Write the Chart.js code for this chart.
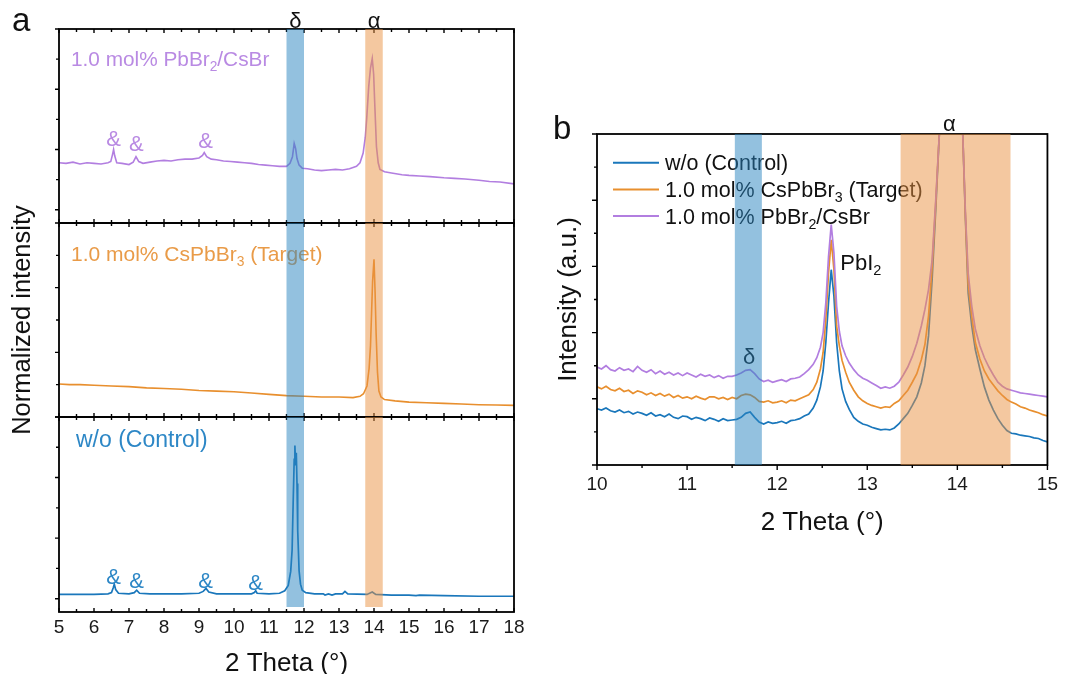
<!DOCTYPE html>
<html><head><meta charset="utf-8">
<script src="https://cdn.jsdelivr.net/npm/chart.js@4.4.1/dist/chart.umd.min.js"></script>
<style>
html,body{margin:0;padding:0;background:#fff;width:1066px;height:674px;overflow:hidden;position:relative}
canvas{position:absolute}
</style></head><body>
<canvas id="a1" width="530" height="240" style="left:0px;top:0px"></canvas>
<canvas id="a2" width="530" height="260" style="left:0px;top:190px"></canvas>
<canvas id="a3" width="530" height="274" style="left:0px;top:400px"></canvas>
<canvas id="b" width="526" height="440" style="left:540px;top:100px"></canvas>
<script>
// ---------------- DATA ----------------
// Panel a, top: 1.0 mol% PbBr2/CsBr
const thetaA_pbbr = [5.0,5.2,5.4,5.6,5.8,6.0,6.2,6.4,6.48,6.53,6.56,6.59,6.65,6.8,7.0,7.12,7.2,7.28,7.4,7.6,7.8,8.0,8.2,8.4,8.6,8.8,9.0,9.1,9.15,9.22,9.35,9.5,9.7,9.9,10.1,10.3,10.5,10.7,10.9,11.1,11.3,11.5,11.6,11.67,11.72,11.76,11.8,11.86,11.95,12.1,12.3,12.5,12.7,12.9,13.1,13.3,13.5,13.6,13.69,13.75,13.79,13.85,13.9,13.95,13.99,14.02,14.07,14.12,14.17,14.3,14.5,14.8,15.0,15.3,15.6,16.0,16.3,16.6,17.0,17.3,17.6,18.0];
const intA_pbbr   = [0.78,0.77,0.79,0.76,0.78,0.77,0.76,0.78,0.80,0.92,1.00,0.90,0.78,0.77,0.75,0.79,0.88,0.80,0.77,0.79,0.81,0.82,0.81,0.83,0.84,0.84,0.86,0.90,0.95,0.88,0.84,0.83,0.81,0.80,0.79,0.78,0.77,0.75,0.74,0.73,0.72,0.72,0.77,0.88,1.10,1.02,0.85,0.74,0.69,0.68,0.66,0.65,0.66,0.67,0.66,0.68,0.72,0.78,0.94,1.20,1.50,2.05,2.35,2.51,2.25,1.78,1.05,0.78,0.67,0.63,0.61,0.58,0.57,0.56,0.55,0.53,0.52,0.51,0.49,0.47,0.46,0.43];
// Panel a, middle: 1.0 mol% CsPbBr3
const thetaA_cspbbr = [5.0,5.3,5.6,6.0,6.5,7.0,7.5,8.0,8.5,9.0,9.5,10.0,10.5,11.0,11.5,12.0,12.5,13.0,13.4,13.6,13.7,13.8,13.86,13.9,13.93,13.96,14.0,14.03,14.06,14.1,14.14,14.2,14.3,14.6,15.0,15.5,16.0,16.5,17.0,17.5,18.0];
const intA_cspbbr   = [0.51,0.50,0.50,0.49,0.48,0.47,0.45,0.44,0.43,0.41,0.40,0.39,0.37,0.35,0.33,0.32,0.31,0.31,0.30,0.32,0.36,0.48,0.75,1.10,1.60,2.10,2.44,1.95,1.30,0.69,0.40,0.31,0.27,0.25,0.23,0.22,0.21,0.20,0.19,0.185,0.18];
// Panel a, bottom: w/o (Control)
const thetaA_ctrl = [5.0,5.5,6.0,6.4,6.5,6.55,6.58,6.62,6.7,7.0,7.15,7.22,7.3,7.6,8.0,8.5,9.0,9.12,9.2,9.28,9.5,10.0,10.5,10.58,10.62,10.66,11.0,11.3,11.45,11.55,11.62,11.66,11.69,11.72,11.74,11.76,11.78,11.8,11.82,11.86,11.9,11.95,12.05,12.3,12.55,12.6,12.7,12.8,12.9,13.1,13.17,13.25,13.8,13.95,14.05,14.5,15.0,15.2,15.3,16.0,17.0,18.0];
const intA_ctrl   = [0.07,0.07,0.07,0.08,0.10,0.18,0.24,0.15,0.09,0.08,0.10,0.14,0.09,0.08,0.08,0.08,0.09,0.12,0.17,0.11,0.08,0.08,0.08,0.10,0.13,0.09,0.08,0.09,0.13,0.22,0.45,0.80,1.57,2.30,2.53,2.20,2.41,1.90,1.13,0.46,0.24,0.14,0.10,0.08,0.08,0.06,0.08,0.06,0.08,0.08,0.12,0.08,0.07,0.11,0.07,0.06,0.06,0.05,0.06,0.05,0.04,0.04];

// Panel b (zoom 10-15)
const thetaB = [10.00,10.05,10.10,10.15,10.20,10.25,10.30,10.35,10.40,10.45,
10.50,10.55,10.60,10.65,10.70,10.75,10.80,10.85,10.90,10.95,
11.00,11.05,11.10,11.15,11.20,11.25,11.30,11.35,11.40,11.45,
11.50,11.55,11.60,11.65,11.70,11.75,11.80,11.85,11.90,11.95,
12.00,12.05,12.10,12.15,12.20,12.25,12.30,12.35,12.40,12.44,
12.48,12.51,12.54,12.57,12.60,12.63,12.66,12.69,12.72,12.76,
12.80,12.85,12.90,12.95,13.00,13.05,13.10,13.15,13.20,13.25,
13.30,13.35,13.40,13.45,13.50,13.55,13.60,13.64,13.68,13.72,
13.76,13.80,13.86,13.93,14.00,14.06,14.09,14.12,14.16,14.20,
14.25,14.30,14.35,14.40,14.45,14.50,14.55,14.60,14.65,14.70,
14.75,14.80,14.85,14.90,14.95,15.00];
const intB_ctrl = [0.85,0.83,0.86,0.82,0.80,0.83,0.79,0.81,0.77,0.80,
0.78,0.75,0.79,0.74,0.76,0.73,0.77,0.72,0.70,0.74,
0.73,0.69,0.72,0.70,0.67,0.71,0.69,0.66,0.70,0.67,
0.68,0.69,0.72,0.78,0.80,0.72,0.65,0.62,0.65,0.63,
0.64,0.66,0.63,0.67,0.68,0.70,0.74,0.77,0.86,0.98,
1.18,1.42,1.85,2.45,2.95,2.55,1.85,1.42,1.15,0.96,
0.84,0.72,0.66,0.62,0.60,0.57,0.55,0.53,0.54,0.53,
0.56,0.62,0.70,0.78,0.90,1.03,1.24,1.50,1.95,2.80,
3.85,5.0,8.0,10.5,8.0,5.0,3.7,2.6,2.1,1.74,
1.45,1.18,0.98,0.83,0.70,0.60,0.52,0.48,0.47,0.45,
0.44,0.43,0.41,0.40,0.37,0.35];
const intB_cspbbr = [1.18,1.15,1.19,1.14,1.12,1.16,1.11,1.13,1.08,1.12,
1.10,1.06,1.09,1.05,1.08,1.04,1.07,1.02,1.05,1.01,
1.03,1.00,1.04,1.01,0.99,1.03,1.03,1.00,1.02,0.99,
1.02,1.00,1.05,1.07,1.06,1.02,0.96,0.95,0.97,0.94,
0.95,0.97,0.94,0.98,0.97,1.00,1.03,1.06,1.14,1.25,
1.45,1.70,2.20,2.90,3.40,2.95,2.10,1.80,1.58,1.40,
1.25,1.13,1.03,0.97,0.93,0.90,0.88,0.86,0.88,0.87,
0.93,0.97,1.05,1.13,1.25,1.38,1.59,1.82,2.25,3.0,
3.95,5.0,8.0,10.5,8.0,5.0,3.75,2.75,2.25,1.85,
1.60,1.42,1.30,1.21,1.12,1.05,0.99,0.95,0.92,0.88,
0.86,0.83,0.81,0.79,0.76,0.74];
const intB_pbbr = [1.48,1.45,1.50,1.44,1.42,1.47,1.43,1.45,1.41,1.49,
1.43,1.40,1.44,1.38,1.42,1.37,1.40,1.36,1.39,1.35,
1.39,1.36,1.33,1.37,1.34,1.36,1.32,1.35,1.31,1.34,
1.34,1.36,1.39,1.43,1.44,1.38,1.30,1.26,1.28,1.25,
1.27,1.29,1.26,1.30,1.31,1.33,1.38,1.44,1.52,1.62,
1.78,2.00,2.45,3.15,3.63,3.20,2.40,2.02,1.80,1.65,
1.54,1.44,1.36,1.31,1.28,1.24,1.20,1.16,1.18,1.16,
1.19,1.25,1.36,1.48,1.64,1.84,2.10,2.35,2.65,3.1,
4.0,5.0,8.0,10.5,8.0,5.0,3.8,2.9,2.40,2.05,
1.80,1.62,1.48,1.36,1.25,1.19,1.15,1.13,1.11,1.09,
1.08,1.07,1.06,1.05,1.04,1.03];

const xRangeA = [5, 18];
const xRangeB = [10, 15];
const bandsA = [[11.5, 12.0], [13.75, 14.25]];
const bandsB = [[11.53, 11.83], [13.37, 14.59]];
const peakMarksTop = [[6.56, 1.05], [7.21, 0.97], [9.19, 1.02]];
const peakMarksBottom = [[6.56, 0.25], [7.22, 0.17], [9.19, 0.17], [10.62, 0.15]];

// ---------------- STYLE ----------------
const FONT = '"Liberation Sans", Arial, Helvetica, sans-serif';
const C = {
  purple: '#b27ee0', purpleText: '#b98ae3',
  orange: '#e88f2e', orangeText: '#e99b48',
  blue: '#1a77bb', blueText: '#2d87c6',
  bandBlue: 'rgba(40,132,192,0.5)', bandOrange: 'rgba(234,146,66,0.5)',
  ink: '#111111'
};

function drawRich(ctx, parts, x, y, size, color, align) {
  const sub = size * 0.66;
  let w = 0;
  parts.forEach(([t, s]) => { ctx.font = (s ? sub : size) + 'px ' + FONT; w += ctx.measureText(t).width; });
  let cx = align === 'center' ? x - w / 2 : (align === 'right' ? x - w : x);
  ctx.fillStyle = color; ctx.textBaseline = 'alphabetic'; ctx.textAlign = 'left';
  parts.forEach(([t, s]) => {
    ctx.font = (s ? sub : size) + 'px ' + FONT;
    ctx.fillText(t, cx, y + (s ? size * 0.24 : 0));
    cx += ctx.measureText(t).width;
  });
}

const decor = {
  id: 'decor',
  afterDatasetsDraw(chart, args, o) {
    const { ctx, chartArea: ca, scales } = chart;
    const x = scales.x, y = scales.y;
    ctx.save();
    // text notes (under the bands)
    (o.notes || []).forEach(n => {
      let px, py;
      if (n.abs) { px = n.abs[0]; py = n.abs[1]; }
      else {
        px = n.dx !== undefined ? ca.left + n.dx : x.getPixelForValue(n.x);
        py = n.dy !== undefined ? ca.top + n.dy : y.getPixelForValue(n.y);
      }
      drawRich(ctx, n.parts, px, py, n.size, n.color, n.align || 'left');
    });
    // legend
    if (o.legend) {
      const L = o.legend;
      L.items.forEach((it, i) => {
        const yy = ca.top + L.top + i * L.gap;
        ctx.strokeStyle = it.color; ctx.lineWidth = 2;
        ctx.beginPath(); ctx.moveTo(ca.left + L.x0, yy); ctx.lineTo(ca.left + L.x1, yy); ctx.stroke();
        drawRich(ctx, it.parts, ca.left + L.tx, yy + L.size * 0.36, L.size, C.ink, 'left');
      });
    }
    // frame
    ctx.strokeStyle = '#000'; ctx.lineWidth = 1.8;
    ctx.strokeRect(ca.left, ca.top, ca.right - ca.left, ca.bottom - ca.top);
    // ticks
    ctx.lineWidth = 1.4;
    ctx.beginPath();
    for (let v = x.min; v <= x.max + 1e-9; v += 0.5) {
      const px = x.getPixelForValue(v);
      const major = Math.abs(v - Math.round(v)) < 1e-6;
      const len = major ? o.tMaj : o.tMin;
      if (o.xIn) {
        ctx.moveTo(px, ca.top); ctx.lineTo(px, ca.top + len);
        ctx.moveTo(px, ca.bottom); ctx.lineTo(px, ca.bottom - len);
      } else {
        ctx.moveTo(px, ca.bottom); ctx.lineTo(px, ca.bottom + len);
      }
    }
    for (let v = Math.ceil(y.min * 2) / 2; v <= y.max + 1e-9; v += 0.5) {
      const py = y.getPixelForValue(v);
      const major = Math.abs(v - Math.round(v)) < 1e-6;
      const len = major ? o.tMaj : o.tMin;
      ctx.moveTo(ca.left, py); ctx.lineTo(ca.left - len, py);
    }
    ctx.stroke();
    // translucent bands over everything inside the plot
    (o.bands || []).forEach(([a, b, col]) => {
      const l = x.getPixelForValue(a), r = x.getPixelForValue(b);
      ctx.fillStyle = col;
      ctx.fillRect(l, ca.top, r - l, ca.bottom - ca.top - (o.bandInset || 0));
    });
    ctx.restore();
  }
};
Chart.register(decor);

function ds(xs, ys, color, w) {
  return { data: xs.map((v, i) => ({ x: v, y: ys[i] })), borderColor: color, borderWidth: w,
           pointRadius: 0, tension: 0, fill: false };
}
const noAxis = (min, max) => ({ type: 'linear', display: false, min, max });
const base = { animation: false, responsive: false, events: [] };
const bandSpecA = [[bandsA[0][0], bandsA[0][1], C.bandBlue], [bandsA[1][0], bandsA[1][1], C.bandOrange]];
const bandSpecB = [[bandsB[0][0], bandsB[0][1], C.bandBlue], [bandsB[1][0], bandsB[1][1], C.bandOrange]];
const amp = (arr, col) => arr.map(([px, py]) => ({ x: px, y: py, parts: [['&', 0]], size: 22, color: col, align: 'center' }));

// ---- Panel a, top ----
new Chart(document.getElementById('a1'), {
  type: 'line',
  data: { datasets: [ds(thetaA_pbbr, intA_pbbr, C.purple, 1.6)] },
  options: Object.assign({}, base, {
    layout: { padding: { left: 59, right: 16, top: 29, bottom: 17 } },
    scales: { x: noAxis(xRangeA[0], xRangeA[1]), y: noAxis(-0.22, 3) },
    plugins: { legend: { display: false }, tooltip: { enabled: false },
      decor: { tMaj: 4, tMin: 3, xIn: true, bands: bandSpecA,
        notes: [
          { abs: [12, 31], parts: [['a', 0]], size: 33, color: C.ink },
          { dx: 12, dy: 37, parts: [['1.0 mol% PbBr', 0], ['2', 1], ['/CsBr', 0]], size: 20.8, color: C.purpleText },
          { x: 11.75, dy: -1, parts: [['δ', 0]], size: 22, color: C.ink, align: 'center' },
          { x: 14.0, dy: -1, parts: [['α', 0]], size: 22, color: C.ink, align: 'center' }
        ].concat(amp(peakMarksTop, C.purpleText)) } }
  })
});

// ---- Panel a, middle ----
new Chart(document.getElementById('a2'), {
  type: 'line',
  data: { datasets: [ds(thetaA_cspbbr, intA_cspbbr, C.orange, 1.6)] },
  options: Object.assign({}, base, {
    layout: { padding: { left: 0, right: 16, top: 33, bottom: 33 } },
    scales: {
      x: noAxis(xRangeA[0], xRangeA[1]),
      y: { type: 'linear', min: 0, max: 3, position: 'left',
           ticks: { display: false }, grid: { display: false, drawTicks: false }, border: { display: false },
           title: { display: true, text: 'Normalized intensity', color: C.ink,
                    font: { family: FONT, size: 25.5, lineHeight: 0.8 }, padding: { top: 13, bottom: 0 } },
           afterFit: s => { s.width = 59; } }
    },
    plugins: { legend: { display: false }, tooltip: { enabled: false },
      decor: { tMaj: 4, tMin: 3, xIn: true, bands: bandSpecA,
        notes: [
          { dx: 12, dy: 38, parts: [['1.0 mol% CsPbBr', 0], ['3', 1], [' (Target)', 0]], size: 21, color: C.orangeText }
        ] } }
  })
});

// ---- Panel a, bottom ----
new Chart(document.getElementById('a3'), {
  type: 'line',
  data: { datasets: [ds(thetaA_ctrl, intA_ctrl, C.blue, 1.7)] },
  options: Object.assign({}, base, {
    layout: { padding: { left: 59, right: 16, top: 17, bottom: 0 } },
    scales: {
      x: { type: 'linear', min: xRangeA[0], max: xRangeA[1], position: 'bottom',
           grid: { display: false, drawTicks: false }, border: { display: false },
           ticks: { stepSize: 1, autoSkip: false, padding: 4, color: '#1a1a1a', font: { family: FONT, size: 19 } },
           title: { display: true, text: '2 Theta (°)', color: C.ink,
                    font: { family: FONT, size: 26, lineHeight: 0.8 }, padding: { top: 0, bottom: 0 } },
           afterFit: s => { s.height = 62; } },
      y: noAxis(-0.22, 3)
    },
    plugins: { legend: { display: false }, tooltip: { enabled: false },
      decor: { tMaj: 4, tMin: 3, xIn: true, bands: bandSpecA, bandInset: 5,
        notes: [
          { dx: 17, dy: 30, parts: [['w/o (Control)', 0]], size: 23, color: C.blueText }
        ].concat(amp(peakMarksBottom, C.blueText)) } }
  })
});

// ---- Panel b ----
new Chart(document.getElementById('b'), {
  type: 'line',
  data: { datasets: [
    ds(thetaB, intB_pbbr, C.purple, 1.7),
    ds(thetaB, intB_cspbbr, C.orange, 1.7),
    ds(thetaB, intB_ctrl, C.blue, 1.7)
  ] },
  options: Object.assign({}, base, {
    layout: { padding: { left: 0, right: 16, top: 34, bottom: 5 } },
    scales: {
      x: { type: 'linear', min: xRangeB[0], max: xRangeB[1], position: 'bottom',
           grid: { display: false, drawTicks: false }, border: { display: false },
           ticks: { stepSize: 1, autoSkip: false, padding: 8, color: '#1a1a1a', font: { family: FONT, size: 19 } },
           title: { display: true, text: '2 Theta (°)', color: C.ink,
                    font: { family: FONT, size: 26, lineHeight: 0.8 }, padding: { top: 0, bottom: 2 } },
           afterFit: s => { s.height = 70; } },
      y: { type: 'linear', min: 0, max: 5, position: 'left',
           ticks: { display: false }, grid: { display: false, drawTicks: false }, border: { display: false },
           title: { display: true, text: 'Intensity (a.u.)', color: C.ink,
                    font: { family: FONT, size: 26, lineHeight: 0.8 }, padding: { top: 18, bottom: 0 } },
           afterFit: s => { s.width = 57; } }
    },
    plugins: { legend: { display: false }, tooltip: { enabled: false },
      decor: { tMaj: 5, tMin: 3, xIn: false, bands: bandSpecB,
        legend: { x0: 16, x1: 62, tx: 68, top: 28.7, gap: 26.7, size: 21.5,
          items: [
            { color: C.blue, parts: [['w/o (Control)', 0]] },
            { color: C.orange, parts: [['1.0 mol% CsPbBr', 0], ['3', 1], [' (Target)', 0]] },
            { color: C.purple, parts: [['1.0 mol% PbBr', 0], ['2', 1], ['/CsBr', 0]] }
          ] },
        notes: [
          { abs: [13, 39], parts: [['b', 0]], size: 33, color: C.ink },
          { x: 13.91, dy: -3, parts: [['α', 0]], size: 22, color: C.ink, align: 'center' },
          { x: 11.69, y: 1.53, parts: [['δ', 0]], size: 22, color: C.ink, align: 'center' },
          { x: 12.70, y: 2.95, parts: [['PbI', 0], ['2', 1]], size: 22, color: C.ink }
        ] } }
  })
});
</script>
</body></html>
